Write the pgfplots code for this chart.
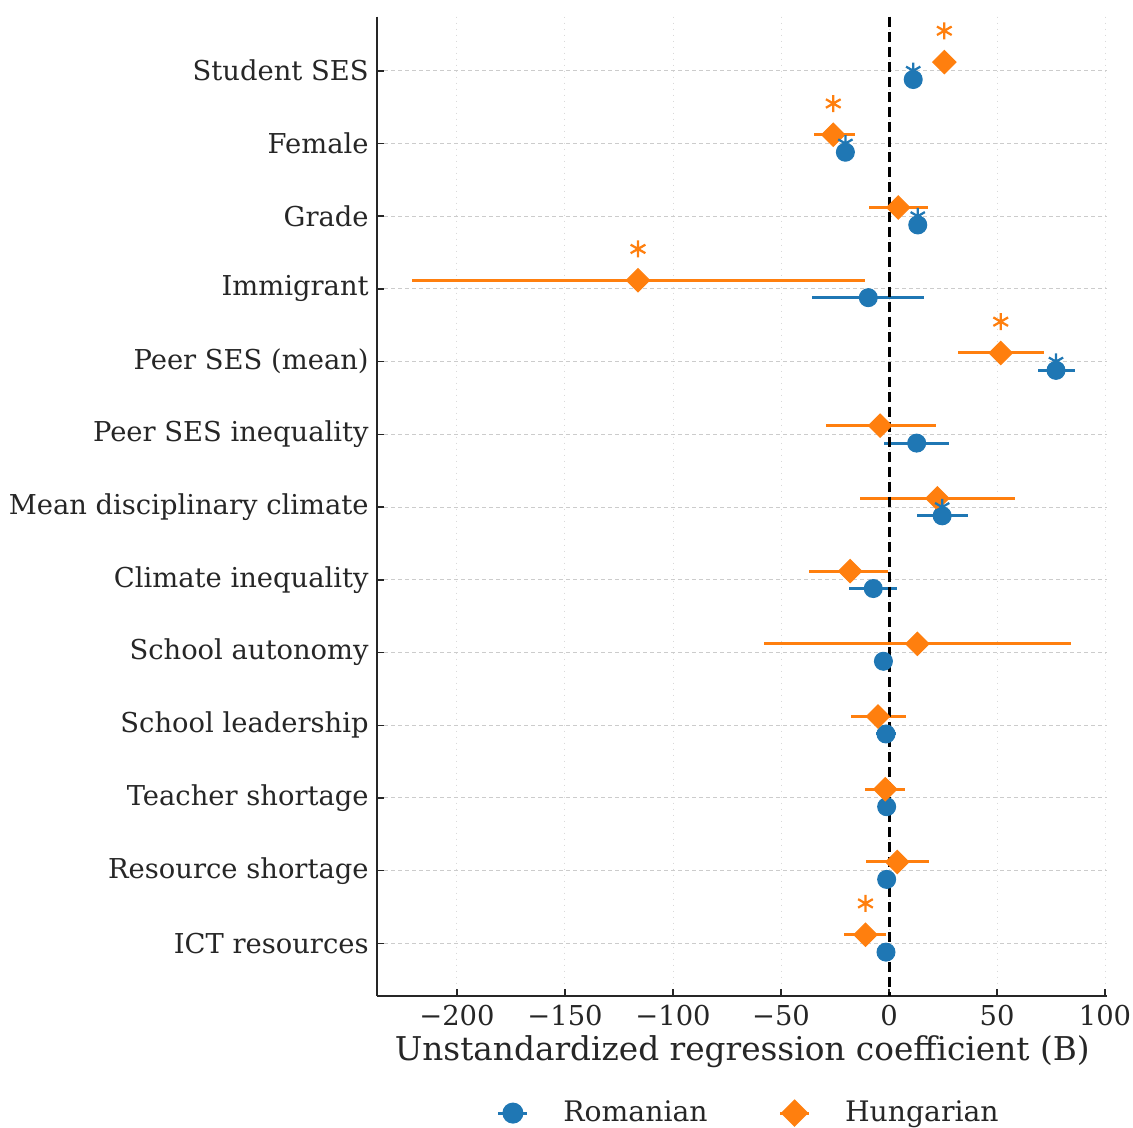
\documentclass[border=0pt]{standalone}
\usepackage{pgfplots}
\pgfplotsset{compat=1.18}
\usepackage{pgfplotstable}
\usepackage{fontspec}
\setmainfont{DejaVu Serif}
\definecolor{tabblue}{HTML}{1F77B4}
\definecolor{taborange}{HTML}{FF7F0E}
\definecolor{axgray}{HTML}{262626}

\pgfplotstableread{
y x lo hi
0.12 11.2 9.0 13.4
1.12 -20.2 -22.5 -18.0
2.12 13.3 11.0 15.5
3.12 -9.6 -35.6 16.0
4.12 77.3 68.9 86.3
5.12 12.8 -2.3 27.8
6.12 24.6 12.8 36.7
7.12 -7.3 -18.4 3.5
8.12 -2.6 -5.0 0.5
9.12 -1.4 -6.0 3.2
10.12 -1.1 -3.0 1.0
11.12 -1.1 -4.0 1.5
12.12 -1.4 -3.5 1.0
}\romtab

\pgfplotstableread{
y x lo hi
-0.12 25.6 21.3 30.6
0.88 -25.8 -34.6 -15.7
1.88 4.3 -9.2 17.9
2.88 -116.2 -220.8 -11.3
3.88 51.7 32.1 71.9
4.88 -4.1 -29.2 21.6
5.88 22.4 -13.4 58.2
6.88 -18.0 -36.9 -0.3
7.88 13.1 -57.9 84.1
8.88 -5.1 -17.7 7.9
9.88 -1.7 -10.9 7.3
10.88 3.8 -10.6 18.5
11.88 -10.9 -20.7 -1.4
}\huntab

\pgfplotsset{
  mylegend/.style={legend image code/.code={
      \draw[mark repeat=2,mark phase=2,##1] plot coordinates {(0pt,0pt) (5.8pt,0pt) (11.6pt,0pt)};
      \path[draw=none, fill=none] (0pt,0pt) -- (24pt,0pt);
  }},
}

\begin{document}
\begin{tikzpicture}
\begin{axis}[
  scale only axis,
  width=291.8pt, height=391.9pt,
  xmin=-236.8, xmax=100.9,
  ymin=-0.743, ymax=12.73,
  y dir=reverse,
  axis lines*=left,
  axis line style={-, line width=0.8pt, axgray},
  xtick={-200,-150,-100,-50,0,50,100},
  xticklabels={−200,−150,−100,−50,0,50,100},
  ytick={0,1,2,3,4,5,6,7,8,9,10,11,12},
  yticklabels={Student SES,Female,Grade,Immigrant,Peer SES (mean),Peer SES inequality,Mean disciplinary climate,Climate inequality,School autonomy,School leadership,Teacher shortage,Resource shortage,ICT resources},
  tick align=inside,
  major tick length=2.8pt,
  tick style={axgray, line width=0.6pt},
  ticklabel style={font=\fontsize{10.95}{13}\selectfont, text=axgray},
  xmajorgrids, ymajorgrids,
  x grid style={black!15, line width=0.4pt, dotted},
  y grid style={black!20, line width=0.4pt, dash pattern=on 1.6pt off 1.2pt},
  xlabel={Unstandardized regression coefficient (B)},
  xlabel style={font=\fontsize{13.1}{15}\selectfont, text=axgray, at={(axis description cs:0.5,-0.0566)}, anchor=center},
  legend style={at={(axis description cs:0.511,-0.119)}, anchor=center, draw=none, fill=none,
    legend columns=2, font=\fontsize{11.3}{13}\selectfont, text=axgray,
    /tikz/every even column/.append style={column sep=26.4pt}},
]
\addlegendimage{mylegend, tabblue, line width=1.2pt, mark=*, mark size=3.6pt, mark options={solid, fill=tabblue, draw=tabblue}}
\addlegendentry{Romanian}
\addlegendimage{mylegend, taborange, line width=1.2pt, mark=square*, mark size=3.3pt, mark options={solid, rotate=45, fill=taborange, draw=taborange}}
\addlegendentry{Hungarian}

\addplot[tabblue, only marks, mark=*, mark size=3.6pt, forget plot,
  error bars/.cd, x dir=both, x explicit, error mark=none,
  error bar style={line width=1.2pt, tabblue}]
  table[x=x, y=y, x error plus expr=\thisrow{hi}-\thisrow{x}, x error minus expr=\thisrow{x}-\thisrow{lo}] {\romtab};

\addplot[taborange, only marks, mark=square*, mark size=3.3pt, mark options={rotate=45}, forget plot,
  error bars/.cd, x dir=both, x explicit, error mark=none,
  error bar style={line width=1.2pt, taborange}]
  table[x=x, y=y, x error plus expr=\thisrow{hi}-\thisrow{x}, x error minus expr=\thisrow{x}-\thisrow{lo}] {\huntab};

\addplot[black, line width=1.2pt, dash pattern=on 4pt off 2pt, forget plot] coordinates {(0,-0.743) (0,12.73)};

\addplot[tabblue, only marks, mark=asterisk, mark size=3.3pt, mark options={line width=0.9pt}, forget plot]
  coordinates {(11.2,0) (-20.2,1) (13.3,2) (77.3,4) (24.6,6)};
\addplot[taborange, only marks, mark=asterisk, mark size=3.4pt, mark options={line width=0.9pt}, forget plot]
  coordinates {(25.6,-0.55) (-25.8,0.45) (-116.2,2.45) (51.7,3.45) (-10.9,11.45)};
\end{axis}
\pgfresetboundingbox
\path[use as bounding box] (-151pt,-52.6pt) rectangle (302.2pt,398.6pt);
\end{tikzpicture}
\end{document}
